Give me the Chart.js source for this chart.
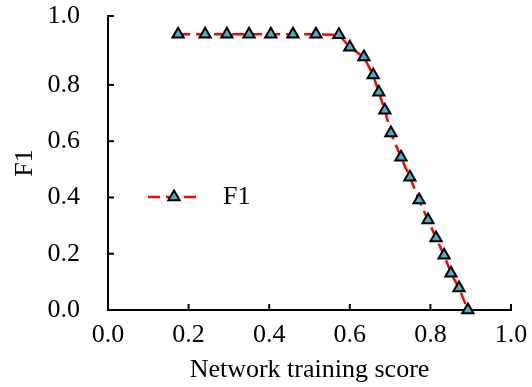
<!DOCTYPE html>
<html>
<head>
<meta charset="utf-8">
<script src="https://cdn.jsdelivr.net/npm/chart.js@4/dist/chart.umd.min.js"></script>
<style>
  body { margin: 0; background: #fff; }
  canvas { display: block; }
</style>
</head>
<body>
<canvas id="myChart" width="532" height="387"></canvas>
<script>
// Data
const scoreValues = [0.174, 0.241, 0.295, 0.350, 0.404, 0.459, 0.516, 0.573, 0.600, 0.635, 0.658, 0.672,
                     0.687, 0.702, 0.727, 0.749, 0.772, 0.794, 0.814, 0.834, 0.851, 0.871, 0.893];
const f1Values = [0.980, 0.980, 0.980, 0.980, 0.980, 0.980, 0.980, 0.978, 0.934, 0.899, 0.835, 0.774,
                  0.710, 0.629, 0.543, 0.472, 0.391, 0.320, 0.256, 0.195, 0.131, 0.078, 0.0];
const xTickValues = [0, 0.2, 0.4, 0.6, 0.8, 1.0];
const xTickLabels = ['0.0', '0.2', '0.4', '0.6', '0.8', '1.0'];
// the top of the y axis sits a little above 1.0; its label reads 1.0
const yMax = 1.045;
const yTickValues = [0, 0.2, 0.4, 0.6, 0.8, yMax];
const yTickLabels = ['0.0', '0.2', '0.4', '0.6', '0.8', '1.0'];
const seriesName = 'F1';
const xTitle = 'Network training score';
const yTitle = 'F1';

const serif = '"Liberation Serif", "Times New Roman", serif';
const lineColor = '#ff0000';
const markerColor = '#4bacc6';

// Inward tick marks on both axes
const tickMarks = {
    id: 'tickMarks',
    afterDraw(chart) {
        const ctx = chart.ctx;
        const x = chart.scales.x;
        const y = chart.scales.y;
        const area = chart.chartArea;
        ctx.save();
        ctx.strokeStyle = '#000';
        ctx.lineWidth = 2;
        xTickValues.forEach(v => {
            const px = x.getPixelForValue(v);
            ctx.beginPath();
            ctx.moveTo(px, area.bottom);
            ctx.lineTo(px, area.bottom - 6);
            ctx.stroke();
        });
        yTickValues.forEach(v => {
            const py = y.getPixelForValue(v);
            ctx.beginPath();
            ctx.moveTo(area.left, py);
            ctx.lineTo(area.left + 6, py);
            ctx.stroke();
        });
        ctx.restore();
    }
};

// Legend inside the plot: dashed line with a marker, then the name
const innerLegend = {
    id: 'innerLegend',
    afterDraw(chart) {
        const ctx = chart.ctx;
        const yPos = 197;
        ctx.save();
        ctx.strokeStyle = lineColor;
        ctx.lineWidth = 2.5;
        ctx.setLineDash([12, 6]);
        ctx.beginPath();
        ctx.moveTo(148, yPos);
        ctx.lineTo(198, yPos);
        ctx.stroke();
        ctx.setLineDash([]);
        ctx.fillStyle = markerColor;
        ctx.strokeStyle = '#000';
        ctx.lineWidth = 2;
        Chart.helpers.drawPoint(ctx, {
            pointStyle: 'triangle', radius: 6.5, borderWidth: 2
        }, 174, yPos);
        ctx.fillStyle = '#000';
        ctx.font = '26px ' + serif;
        ctx.textBaseline = 'middle';
        ctx.textAlign = 'left';
        ctx.fillText(seriesName, 223, yPos);
        ctx.restore();
    }
};

const ctx = document.getElementById('myChart').getContext('2d');
const myChart = new Chart(ctx, {
    type: 'scatter',
    data: {
        datasets: [{
            label: seriesName,
            data: scoreValues.map((s, i) => ({ x: s, y: f1Values[i] })),
            showLine: true,
            borderColor: lineColor,
            borderWidth: 2.5,
            borderDash: [12, 6],
            pointStyle: 'triangle',
            pointRadius: 6.5,
            pointBorderWidth: 2,
            pointBorderColor: '#000',
            pointBackgroundColor: markerColor,
            clip: false
        }]
    },
    options: {
        responsive: false,
        animation: false,
        layout: { padding: { top: 16, right: 21, left: 0, bottom: 0 } },
        plugins: {
            legend: { display: false },
            tooltip: { enabled: false }
        },
        scales: {
            x: {
                type: 'linear',
                min: 0, max: 1,
                afterBuildTicks: scale => { scale.ticks = xTickValues.map(v => ({ value: v })); },
                afterFit: scale => {
                    scale.height = 77;
                    scale.paddingLeft = 0;
                    scale.paddingRight = 0;
                },
                grid: { display: false },
                border: { display: true, color: '#000', width: 2 },
                ticks: {
                    padding: 2,
                    color: '#000',
                    font: { family: serif, size: 26 },
                    callback: (v, i) => xTickLabels[i]
                },
                title: {
                    display: true,
                    text: xTitle,
                    color: '#000',
                    font: { family: serif, size: 26 },
                    padding: { top: 0, bottom: 1 }
                }
            },
            y: {
                type: 'linear',
                min: 0, max: yMax,
                afterBuildTicks: scale => { scale.ticks = yTickValues.map(v => ({ value: v })); },
                afterFit: scale => {
                    scale.width = 108;
                    scale.paddingTop = 0;
                    scale.paddingBottom = 0;
                },
                grid: { display: false },
                border: { display: true, color: '#000', width: 2 },
                ticks: {
                    padding: 20,
                    color: '#000',
                    font: { family: serif, size: 26 },
                    callback: (v, i) => yTickLabels[i]
                },
                title: {
                    display: true,
                    text: yTitle,
                    color: '#000',
                    font: { family: serif, size: 26 },
                    padding: { top: 10, bottom: 0 }
                }
            }
        }
    },
    plugins: [tickMarks, innerLegend]
});
</script>
</body>
</html>
